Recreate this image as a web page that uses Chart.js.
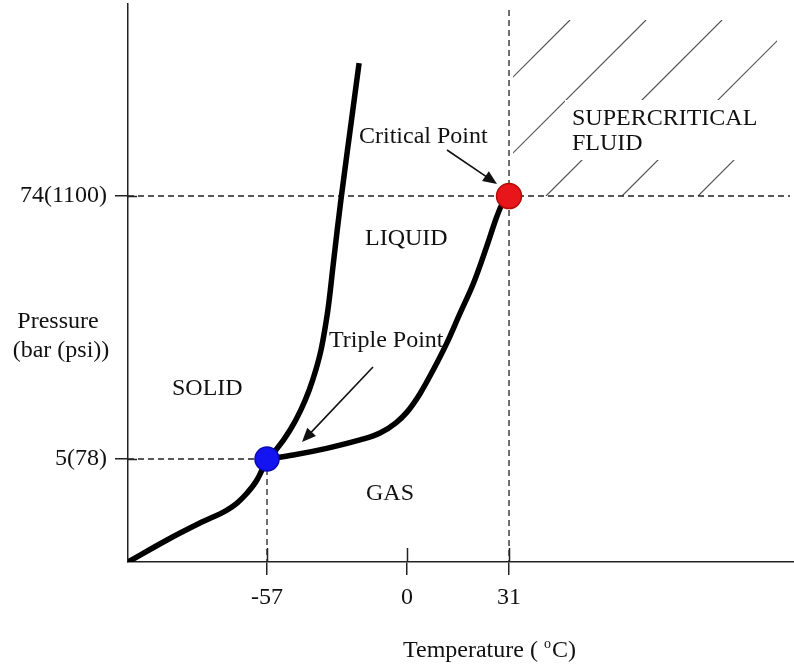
<!DOCTYPE html>
<html>
<head>
<meta charset="utf-8">
<script src="https://cdn.jsdelivr.net/npm/chart.js@4/dist/chart.umd.min.js"></script>
<style>
  html, body { margin: 0; padding: 0; background: #fff; overflow: hidden; }
  #wrap { width: 794px; height: 665px; position: relative; }
  canvas { display: block; }
</style>
</head>
<body>
<div id="wrap"><canvas id="phase"></canvas></div>
<script>
// CO2 phase diagram: temperature (°C) against pressure (bar)

// Sublimation curve (solid / gas)
const sublimationT = [-115, -98.7, -85.0, -73.7, -69.5, -65.3, -61.2, -57];
const sublimationP = [0, 1.07, 1.89, 2.52, 2.86, 3.35, 3.98, 5];
// Melting curve (solid / liquid)
const meltingT = [-57, -53.3, -47.6, -43.2, -39.8, -37.1, -35.0, -33.5, -32.2, -31.2, -30.3, -28.4, -26.9, -23.3, -19.5];
const meltingP = [5, 7.4, 12.6, 17.9, 23.1, 28.4, 33.6, 38.8, 44.1, 49.3, 54.6, 65.1, 73.0, 90.4, 108.6];
// Boiling curve (liquid / gas)
const boilingT = [-57, -46.3, -32.7, -19.1, -11.0, -4.5, 0, 4.0, 8.0, 12.1, 16.1, 20.2, 24.2, 27.3, 28.9, 31];
const boilingP = [5, 6.05, 7.8, 10.0, 11.8, 14.5, 17.3, 22.2, 28.4, 35.4, 43.2, 51.1, 60.7, 68.6, 71.9, 74];

const triplePoint = { t: -57, p: 5 };
const criticalPoint = { t: 31, p: 74 };

const xTickValues = [-57, 0, 31];
const xTickLabels = ['-57', '0', '31'];
const yTickValues = [5, 74];
const yTickLabels = ['5(78)', '74(1100)'];

const regionLabels = ['SOLID', 'LIQUID', 'GAS', 'SUPERCRITICAL', 'FLUID'];

// Schematic (non-linear) axes: each value break gets its own share of the axis length.
const axisBreaks = {
  x: [[-115, 0], [-57, 0.2087], [0, 0.4189], [31, 0.5721], [117, 1]],
  y: [[0, 0], [5, 0.1846], [74, 0.6559], [124, 1]]
};

class PiecewiseScale extends Chart.LinearScale {
  static id = 'piecewise';
  static defaults = {};
  toDecimal(v) {
    const k = axisBreaks[this.id];
    let i = 1;
    while (i < k.length - 1 && v > k[i][0]) i++;
    const [v0, f0] = k[i - 1], [v1, f1] = k[i];
    return f0 + (v - v0) / (v1 - v0) * (f1 - f0);
  }
  fromDecimal(d) {
    const k = axisBreaks[this.id];
    let i = 1;
    while (i < k.length - 1 && d > k[i][1]) i++;
    const [v0, f0] = k[i - 1], [v1, f1] = k[i];
    return v0 + (d - f0) / (f1 - f0) * (v1 - v0);
  }
  getPixelForValue(value) {
    if (value === null || value === undefined || isNaN(value)) return NaN;
    return this.getPixelForDecimal(this.toDecimal(value));
  }
  getValueForPixel(pixel) {
    return this.fromDecimal(this.getDecimalForPixel(pixel));
  }
}
Chart.register(PiecewiseScale);

const toPoints = (ts, ps) => ts.map((t, i) => ({ x: t, y: ps[i] }));

const SERIF = '"Liberation Serif", "Times New Roman", serif';
const INK = '#111';
const FONT_PX = 24;

function drawArrow(ctx, x0, y0, x1, y1) {
  const a = Math.atan2(y1 - y0, x1 - x0);
  const len = 14, half = 6;
  ctx.beginPath();
  ctx.moveTo(x0, y0);
  ctx.lineTo(x1 - Math.cos(a) * len * 0.8, y1 - Math.sin(a) * len * 0.8);
  ctx.stroke();
  ctx.beginPath();
  ctx.moveTo(x1, y1);
  ctx.lineTo(x1 - Math.cos(a) * len - Math.sin(a) * half, y1 - Math.sin(a) * len + Math.cos(a) * half);
  ctx.lineTo(x1 - Math.cos(a) * len + Math.sin(a) * half, y1 - Math.sin(a) * len - Math.cos(a) * half);
  ctx.closePath();
  ctx.fill();
}

// Dashed guides, hatched supercritical region and inner tick stubs
const backdrop = {
  id: 'backdrop',
  beforeDatasetsDraw(chart) {
    const { ctx, chartArea: ca, scales: { x, y } } = chart;
    const cx = x.getPixelForValue(criticalPoint.t), cy = y.getPixelForValue(criticalPoint.p);
    const tx = x.getPixelForValue(triplePoint.t), ty = y.getPixelForValue(triplePoint.p);
    const seg = (a, b, c, d) => { ctx.beginPath(); ctx.moveTo(a, b); ctx.lineTo(c, d); ctx.stroke(); };

    // hatching, with a gap behind the region label
    ctx.save();
    const hx0 = cx + 4, hx1 = ca.right - 17, hy0 = ca.top + 16, hy1 = cy;
    ctx.beginPath();
    ctx.rect(hx0, hy0, hx1 - hx0, hy1 - hy0);
    ctx.rect(cx + 56, cy - 96, hx1 - cx - 56, 60);
    ctx.clip('evenodd');
    ctx.strokeStyle = '#555';
    ctx.lineWidth = 1.2;
    const step = 76;
    const c0 = cx + cy + 37;
    for (let c = c0 - step * 4; c < c0 + step * 3; c += step) {
      seg(c - hy1, hy1, c - hy0, hy0);
    }
    ctx.restore();

    // dashed guide lines
    ctx.save();
    ctx.strokeStyle = '#222';
    ctx.lineWidth = 1.3;
    ctx.setLineDash([6, 4]);
    seg(ca.left, cy, ca.right - 4, cy);
    seg(cx, ca.top + 6, cx, ca.bottom);
    seg(ca.left, ty, tx, ty);
    seg(tx, ty, tx, ca.bottom);
    ctx.restore();

    // tick marks reaching into the plot
    ctx.save();
    ctx.strokeStyle = '#222';
    ctx.lineWidth = 1.5;
    xTickValues.forEach(v => {
      const px = Math.round(x.getPixelForValue(v)) + 0.5;
      seg(px, ca.bottom, px, ca.bottom - 14);
    });
    yTickValues.forEach(v => {
      const py = Math.round(y.getPixelForValue(v)) + 0.5;
      seg(ca.left, py, ca.left + 9, py);
    });
    ctx.restore();
  },
  afterDatasetsDraw(chart) {
    const { ctx, scales: { x, y } } = chart;
    const cx = x.getPixelForValue(criticalPoint.t), cy = y.getPixelForValue(criticalPoint.p);
    const tx = x.getPixelForValue(triplePoint.t), ty = y.getPixelForValue(triplePoint.p);
    ctx.save();
    ctx.fillStyle = INK;
    ctx.textBaseline = 'alphabetic';
    ctx.textAlign = 'left';
    ctx.font = FONT_PX + 'px ' + SERIF;
    ctx.fillText('Critical Point', 359, 143);
    ctx.fillText(regionLabels[3], 572, 125);
    ctx.fillText(regionLabels[4], 572, 150);
    ctx.fillText(regionLabels[1], 365, 245);
    ctx.fillText('Triple Point', 329, 347);
    ctx.fillText(regionLabels[0], 172, 395);
    ctx.fillText(regionLabels[2], 366, 500);

    // axis titles
    ctx.textAlign = 'center';
    ctx.fillText('Pressure', 58, 328);
    ctx.fillText('(bar (psi))', 61, 357);
    ctx.textAlign = 'left';
    const t1 = 'Temperature ( ';
    ctx.fillText(t1, 403, 657);
    let px = 403 + ctx.measureText(t1).width;
    ctx.font = '14px ' + SERIF;
    ctx.fillText('o', px, 648);
    px += ctx.measureText('o').width + 1;
    ctx.font = FONT_PX + 'px ' + SERIF;
    ctx.fillText('C)', px, 657);

    // pointer arrows
    ctx.strokeStyle = '#111';
    ctx.fillStyle = '#111';
    ctx.lineWidth = 1.6;
    drawArrow(ctx, cx - 62, cy - 46, cx - 12, cy - 12);
    drawArrow(ctx, tx + 106, ty - 92, tx + 35, ty - 17);
    ctx.restore();
  }
};

const curveStyle = {
  showLine: true,
  borderColor: '#000',
  borderWidth: 5.5,
  pointRadius: 0,
  cubicInterpolationMode: 'monotone',
  borderCapStyle: 'butt',
  borderJoinStyle: 'round',
  order: 2
};

// no extra edge padding: the plot spans the full width and height given
const flushEdges = (s) => { s.paddingTop = 0; s.paddingBottom = 0; s.paddingLeft = 0; s.paddingRight = 0; };

new Chart(document.getElementById('phase'), {
  type: 'scatter',
  data: {
    datasets: [
      { label: 'Sublimation', data: toPoints(sublimationT, sublimationP), ...curveStyle },
      { label: 'Melting', data: toPoints(meltingT, meltingP), ...curveStyle },
      { label: 'Boiling', data: toPoints(boilingT, boilingP), ...curveStyle },
      {
        label: 'Triple point', data: [{ x: triplePoint.t, y: triplePoint.p }],
        pointRadius: 12, pointBackgroundColor: '#1414f0', pointBorderColor: '#0a0ab0',
        pointBorderWidth: 1.5, order: 0
      },
      {
        label: 'Critical point', data: [{ x: criticalPoint.t, y: criticalPoint.p }],
        pointRadius: 12.5, pointBackgroundColor: '#e8161a', pointBorderColor: '#b40a0a',
        pointBorderWidth: 1.5, order: 0
      }
    ]
  },
  options: {
    responsive: true,
    maintainAspectRatio: false,
    animation: false,
    events: [],
    layout: { autoPadding: false, padding: { top: 4, right: 0, left: 0, bottom: 0 } },
    plugins: { legend: { display: false }, tooltip: { enabled: false } },
    scales: {
      x: {
        type: 'piecewise',
        min: -115, max: 117,
        afterBuildTicks: s => { s.ticks = xTickValues.map(value => ({ value })); },
        afterFit: s => { s.height = 103; flushEdges(s); },
        border: { display: true, color: '#222', width: 1.5 },
        grid: { display: true, drawOnChartArea: false, drawTicks: true, tickLength: 13, color: '#222', lineWidth: 1.5 },
        ticks: {
          autoSkip: false, maxRotation: 0, padding: 8, color: INK,
          font: { family: SERIF, size: FONT_PX },
          callback: (v, i) => xTickLabels[i]
        }
      },
      y: {
        type: 'piecewise',
        min: 0, max: 124,
        afterBuildTicks: s => { s.ticks = yTickValues.map(value => ({ value })); },
        afterFit: s => { s.width = 128; flushEdges(s); },
        border: { display: true, color: '#222', width: 1.5 },
        grid: { display: true, drawOnChartArea: false, drawTicks: true, tickLength: 13, color: '#222', lineWidth: 1.5 },
        ticks: {
          autoSkip: false, padding: 8, color: INK,
          font: { family: SERIF, size: FONT_PX },
          callback: (v, i) => yTickLabels[i]
        }
      }
    }
  },
  plugins: [backdrop]
});
</script>
</body>
</html>
